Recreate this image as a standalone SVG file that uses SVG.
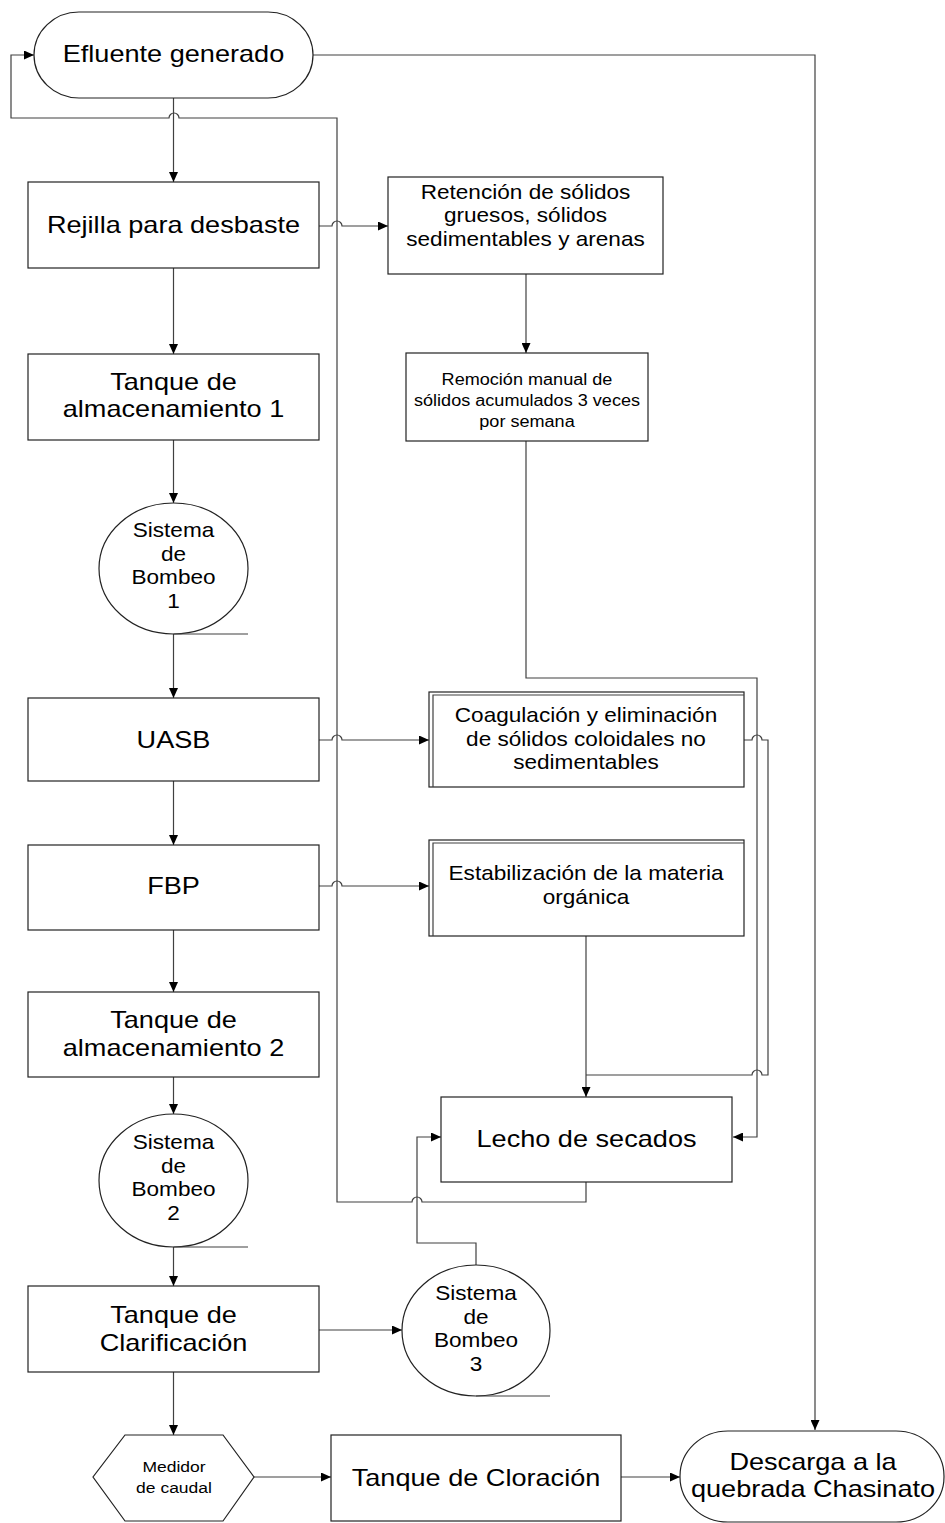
<svg xmlns="http://www.w3.org/2000/svg" width="945" height="1523" viewBox="0 0 945 1523">
<style>
.s{fill:#fff;stroke:#222;stroke-width:1.2}
.c{fill:none;stroke:#404040;stroke-width:1.2}
.c.a{marker-end:url(#ah)}
text{font-family:"Liberation Sans",Arial,sans-serif;fill:#000;text-anchor:middle}
.L{font-size:24px}
.M{font-size:20px}
.S{font-size:16px}
.H{font-size:15.5px}
</style>
<defs>
<marker id="ah" markerWidth="10" markerHeight="9" refX="10" refY="4.5" orient="auto" markerUnits="userSpaceOnUse">
<path d="M0,0 L10,4.5 L0,9 z" fill="#000"/>
</marker>
</defs>
<rect width="945" height="1523" fill="#fff"/>

<g id="connectors">
<path class="c a" d="M586,1182 V1202 H422 A5 5 0 0 0 412 1202 H337 V118 H179 A5 5 0 0 0 169 118 H11 V55 H34"/>
<path class="c a" d="M313,55 H815 V1430"/>
<path class="c a" d="M173.5,98 V182"/>
<path class="c a" d="M319,226 H332 A5 5 0 0 1 342 226 H388"/>
<path class="c a" d="M173.5,268 V354"/>
<path class="c a" d="M526,274 V353"/>
<path class="c a" d="M173.5,440 V503"/>
<path class="c a" d="M173.5,634 V698"/>
<path class="c a" d="M319,740 H332 A5 5 0 0 1 342 740 H429"/>
<path class="c a" d="M173.5,781 V845"/>
<path class="c a" d="M319,886 H332 A5 5 0 0 1 342 886 H429"/>
<path class="c a" d="M173.5,930 V992"/>
<path class="c a" d="M526,441 V678 H757 V1137 H733"/>
<path class="c" d="M744,740 H752 A5 5 0 0 1 762 740 H768 V1075 H762 A5 5 0 0 0 752 1075 H586"/>
<path class="c a" d="M586,936 V1097"/>
<path class="c a" d="M173.5,1077 V1114"/>
<path class="c a" d="M173.5,1247 V1286"/>
<path class="c a" d="M319,1330 H402"/>
<path class="c a" d="M476,1265 V1243 H417 V1137 H441"/>
<path class="c a" d="M173.5,1372 V1435"/>
<path class="c a" d="M254,1477 H331"/>
<path class="c a" d="M621,1477 H680"/>
</g>

<g id="efluente">
<rect class="s" x="34" y="12" width="279" height="86" rx="45" ry="43"/>
<text class="L" transform="translate(173.5,62) scale(1.13,1)">Efluente generado</text>
</g>

<g id="rejilla">
<rect class="s" x="28" y="182" width="291" height="86"/>
<text class="L" transform="translate(173.5,233) scale(1.13,1)">Rejilla para desbaste</text>
</g>

<g id="retencion">
<rect class="s" x="388" y="177" width="275" height="97"/>
<text class="M" transform="translate(525.5,199) scale(1.13,1)">Retención de sólidos</text>
<text class="M" transform="translate(525.5,222) scale(1.13,1)">gruesos, sólidos</text>
<text class="M" transform="translate(525.5,246) scale(1.13,1)">sedimentables y arenas</text>
</g>

<g id="remocion">
<rect class="s" x="406" y="353" width="242" height="88"/>
<text class="S" transform="translate(527,385) scale(1.13,1)">Remoción manual de</text>
<text class="S" transform="translate(527,406) scale(1.13,1)">sólidos acumulados 3 veces</text>
<text class="S" transform="translate(527,427) scale(1.13,1)">por semana</text>
</g>

<g id="tanque1">
<rect class="s" x="28" y="354" width="291" height="86"/>
<text class="L" transform="translate(173.5,390) scale(1.13,1)">Tanque de</text>
<text class="L" transform="translate(173.5,417) scale(1.13,1)">almacenamiento 1</text>
</g>

<g id="bombeo1">
<ellipse class="s" cx="173.5" cy="568.5" rx="74.5" ry="65.5"/>
<path class="c" d="M173.5,634 H248"/>
<text class="M" transform="translate(173.5,537) scale(1.13,1)">Sistema</text>
<text class="M" transform="translate(173.5,561) scale(1.13,1)">de</text>
<text class="M" transform="translate(173.5,584) scale(1.13,1)">Bombeo</text>
<text class="M" transform="translate(173.5,608) scale(1.13,1)">1</text>
</g>

<g id="uasb">
<rect class="s" x="28" y="698" width="291" height="83"/>
<text class="L" transform="translate(173.5,748) scale(1.13,1)">UASB</text>
</g>

<g id="coagulacion">
<rect class="s" x="429" y="692" width="315" height="95"/>
<path class="c" d="M433,787 V695 H744"/>
<text class="M" transform="translate(586,722) scale(1.13,1)">Coagulación y eliminación</text>
<text class="M" transform="translate(586,746) scale(1.13,1)">de sólidos coloidales no</text>
<text class="M" transform="translate(586,769) scale(1.13,1)">sedimentables</text>
</g>

<g id="fbp">
<rect class="s" x="28" y="845" width="291" height="85"/>
<text class="L" transform="translate(173.5,894) scale(1.13,1)">FBP</text>
</g>

<g id="estabilizacion">
<rect class="s" x="429" y="840" width="315" height="96"/>
<path class="c" d="M433,936 V843 H744"/>
<text class="M" transform="translate(586,880) scale(1.13,1)">Estabilización de la materia</text>
<text class="M" transform="translate(586,904) scale(1.13,1)">orgánica</text>
</g>

<g id="tanque2">
<rect class="s" x="28" y="992" width="291" height="85"/>
<text class="L" transform="translate(173.5,1028) scale(1.13,1)">Tanque de</text>
<text class="L" transform="translate(173.5,1056) scale(1.13,1)">almacenamiento 2</text>
</g>

<g id="lecho">
<rect class="s" x="441" y="1097" width="291" height="85"/>
<text class="L" transform="translate(586.5,1147) scale(1.13,1)">Lecho de secados</text>
</g>

<g id="bombeo2">
<ellipse class="s" cx="173.5" cy="1180.5" rx="74.5" ry="66.5"/>
<path class="c" d="M173.5,1247 H248"/>
<text class="M" transform="translate(173.5,1149) scale(1.13,1)">Sistema</text>
<text class="M" transform="translate(173.5,1173) scale(1.13,1)">de</text>
<text class="M" transform="translate(173.5,1196) scale(1.13,1)">Bombeo</text>
<text class="M" transform="translate(173.5,1220) scale(1.13,1)">2</text>
</g>

<g id="clarificacion">
<rect class="s" x="28" y="1286" width="291" height="86"/>
<text class="L" transform="translate(173.5,1323) scale(1.13,1)">Tanque de</text>
<text class="L" transform="translate(173.5,1351) scale(1.13,1)">Clarificación</text>
</g>

<g id="bombeo3">
<ellipse class="s" cx="476" cy="1330.5" rx="74" ry="65.5"/>
<path class="c" d="M476,1396 H550"/>
<text class="M" transform="translate(476,1300) scale(1.13,1)">Sistema</text>
<text class="M" transform="translate(476,1324) scale(1.13,1)">de</text>
<text class="M" transform="translate(476,1347) scale(1.13,1)">Bombeo</text>
<text class="M" transform="translate(476,1371) scale(1.13,1)">3</text>
</g>

<g id="medidor">
<polygon class="s" points="125,1435 223,1435 254,1477 223,1521 125,1521 93,1477"/>
<text class="H" transform="translate(174,1472) scale(1.13,1)">Medidor</text>
<text class="H" transform="translate(174,1493) scale(1.13,1)">de caudal</text>
</g>

<g id="cloracion">
<rect class="s" x="331" y="1435" width="290" height="86"/>
<text class="L" transform="translate(476,1486) scale(1.13,1)">Tanque de Cloración</text>
</g>

<g id="descarga">
<rect class="s" x="680" y="1431" width="264" height="91" rx="48" ry="45"/>
<text class="L" transform="translate(813,1470) scale(1.13,1)">Descarga a la</text>
<text class="L" transform="translate(813,1497) scale(1.13,1)">quebrada Chasinato</text>
</g>
</svg>
